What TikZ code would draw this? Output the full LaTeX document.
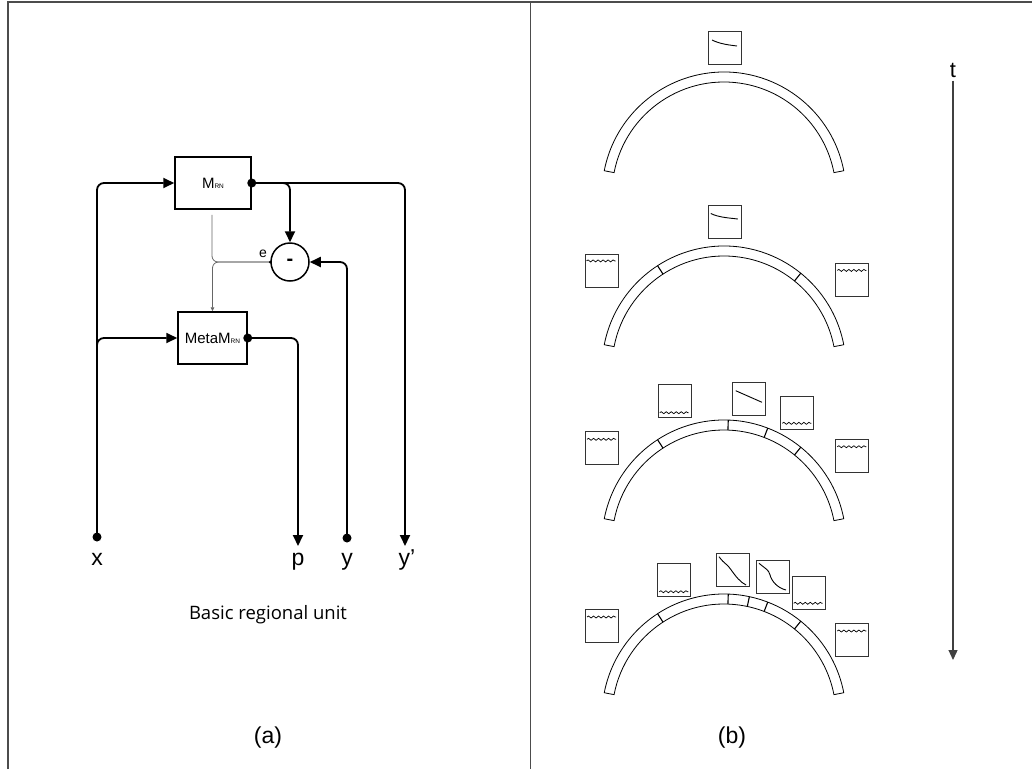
\documentclass[tikz,border=0pt]{standalone}
\usepackage{fontspec}
\setmainfont{Liberation Sans}
\newfontfamily\capfont{Open Sans}
\usetikzlibrary{arrows.meta,calc,decorations.pathmorphing}
\newcommand\ringarc[1]{%
  \draw[ring] ($(724,#1)+(-11:122)$) arc[start angle=-11,end angle=-169,radius=122]
     -- ($(724,#1)+(-169:112)$) arc[start angle=-169,end angle=-11,radius=112] -- cycle;}
\newcommand\ringdiv[2]{\draw[divline] ($(724,#1)+(-#2:112)$) -- ($(724,#1)+(-#2:122)$);}
\begin{document}
\begin{tikzpicture}[x=1pt,y=-1pt,
  conn/.style={line width=1.8pt, rounded corners=7pt},
  tip/.style={-{Triangle[length=11pt,width=10pt]}},
  blk/.style={draw, line width=1.5pt, inner sep=0pt, font=\fontsize{15}{15}\selectfont},
  dotnode/.style={circle, fill, inner sep=0pt, minimum size=9pt},
  lbl/.style={font=\fontsize{23}{23}\selectfont, anchor=base},
  gline/.style={line width=0.8pt, black!60, rounded corners=6pt},
  pbox/.style={draw=black!80, line width=1pt, minimum size=33pt, inner sep=0pt, anchor=north west},
  wave/.style={line width=0.7pt, decorate, decoration={snake, amplitude=1pt, segment length=5pt}},
  curve/.style={line width=0.9pt},
  ring/.style={line width=0.8pt},
  divline/.style={line width=1.1pt},
  frame/.style={line width=1.5pt, black!70},
]
\useasboundingbox (0,0) rectangle (1032,769);
% frame
\draw[frame] (8,769) -- (8,2) -- (1032,2);
\draw[line width=0.9pt, black!70] (530,2) -- (530,769);

% ---------- panel (a)
\node[blk, minimum width=76pt, minimum height=52pt] (mrn) at (213,183) {M{\fontsize{6.5}{6.5}\selectfont RN}};
\node[blk, minimum width=69pt, minimum height=52pt] (meta) at (212.5,338) {MetaM{\fontsize{6.5}{6.5}\selectfont RN}};
\node[circle, draw, line width=1.5pt, minimum size=38pt, inner sep=0pt, font=\bfseries\fontsize{20}{20}\selectfont] (minus) at (290,262) {-};
\node[dotnode] (mo) at (mrn.east) {};
\node[dotnode] (mo2) at (meta.east) {};
\node[dotnode] (xin) at (97,537) {};
\node[dotnode] (yin) at (347,538) {};
\coordinate (pend) at (298,546);
\coordinate (ypend) at (405,546);
\node[lbl] (xl) at (97,565) {x};
\node[lbl] (pl) at (298,565) {p};
\node[lbl] (yl) at (347,565) {y};
\node[lbl] (ypl) at (407,565) {y{\char"0027}};

\draw[conn,tip] (xin.center) |- (mrn.west);
\draw[conn,tip] (xin.center) |- (meta.west);
\draw[conn,tip] (mo.center) -| (minus.north);
\draw[conn,tip] (mo.center) -| (ypend);
\draw[conn,tip] (mo2.center) -| (pend);
\draw[conn,tip] (yin.center) |- (minus.east);

\coordinate (gs) at ($(mrn.south)+(-1,5)$);
\draw[gline] (gs) |- (minus.west);
\draw[gline, -{Triangle[length=4pt,width=3.5pt]}] (minus.west) -| (meta.north);
\node[circle, fill, inner sep=0pt, minimum size=3pt] (edot) at (minus.west) {};
\node[font=\fontsize{14}{14}\selectfont] (el) at (263,254) {e};

\node[font=\capfont\fontsize{18.5}{18.5}\selectfont] (cap) at (268,615) {Basic regional unit};
\node[font=\fontsize{23}{23}\selectfont] (la) at (268,738) {(a)};

% ---------- panel (b)
\node[font=\fontsize{23}{23}\selectfont] (lb) at (732,738) {(b)};
\node[font=\fontsize{22}{22}\selectfont] (tl) at (953,70) {t};
\coordinate (tend) at (953,660);
\draw[line width=1.2pt, black!75, -{Triangle[length=10pt,width=9pt]}] (tl.south) -- (tend);

% arcs
\ringarc{194}
\ringarc{368}
\ringarc{542}
\ringarc{716}
\ringdiv{368}{123}\ringdiv{368}{51}
\ringdiv{542}{123}\ringdiv{542}{88}\ringdiv{542}{69}\ringdiv{542}{51}
\ringdiv{716}{123}\ringdiv{716}{88}\ringdiv{716}{78}\ringdiv{716}{69}\ringdiv{716}{51}

% row 1
\node[pbox] (a1) at (708,31) {};
\draw[curve] ($(a1.north west)+(4,9)$) .. controls +(8,4) and +(-8,-1) .. ($(a1.north west)+(29,15)$);
% row 2
\node[pbox] (b1) at (584.5,253.5) {};
\node[pbox] (b2) at (707.8,204.5) {};
\node[pbox] (b3) at (835.3,263) {};
\draw[wave] ($(b1.north west)+(2,7.4)$) -- ++(29,0);
\draw[curve] ($(b2.north west)+(3,9)$) .. controls +(8,4) and +(-8,-1) .. ($(b2.north west)+(30,14.5)$);
\draw[wave] ($(b3.north west)+(2,7.4)$) -- ++(29,0);
% row 3
\node[pbox] (c1) at (585,431.3) {};
\node[pbox] (c2) at (657.7,384.3) {};
\node[pbox] (c3) at (732,381.7) {};
\node[pbox] (c4) at (780.3,395.7) {};
\node[pbox] (c5) at (835.3,439.3) {};
\draw[wave] ($(c1.north west)+(2,8)$) -- ++(29,0);
\draw[wave] ($(c2.north west)+(2,28.4)$) -- ++(29,0);
\draw[curve] ($(c3.north west)+(3.7,9)$) -- ($(c3.north west)+(30,20.6)$);
\draw[wave] ($(c4.north west)+(2,27.6)$) -- ++(29,0);
\draw[wave] ($(c5.north west)+(2,7.4)$) -- ++(29,0);
% row 4
\node[pbox] (d1) at (585,609) {};
\node[pbox] (d2) at (657.3,562.7) {};
\node[pbox] (d3) at (715.7,553.3) {};
\node[pbox] (d4) at (755.7,560) {};
\node[pbox] (d5) at (791.7,575.7) {};
\node[pbox] (d6) at (835.3,623) {};
\draw[wave] ($(d1.north west)+(2,8)$) -- ++(29,0);
\draw[wave] ($(d2.north west)+(2,29)$) -- ++(29,0);
\draw[curve] ($(d3.north west)+(3.3,3.4)$) .. controls +(6,8) and +(-4,-6) .. ($(d3.north west)+(15,16)$)
   .. controls +(5,7) and +(-6,-3) .. ($(d3.north west)+(30.3,31.7)$);
\draw[curve] ($(d4.north west)+(3.3,3.3)$) .. controls +(6,5) and +(-1,-4) .. ($(d4.north west)+(14,14)$)
   .. controls +(2,8) and +(-8,-2) .. ($(d4.north west)+(30.3,30)$);
\draw[wave] ($(d5.north west)+(2,27.6)$) -- ++(29,0);
\draw[wave] ($(d6.north west)+(2,8)$) -- ++(29,0);
\end{tikzpicture}
\end{document}
